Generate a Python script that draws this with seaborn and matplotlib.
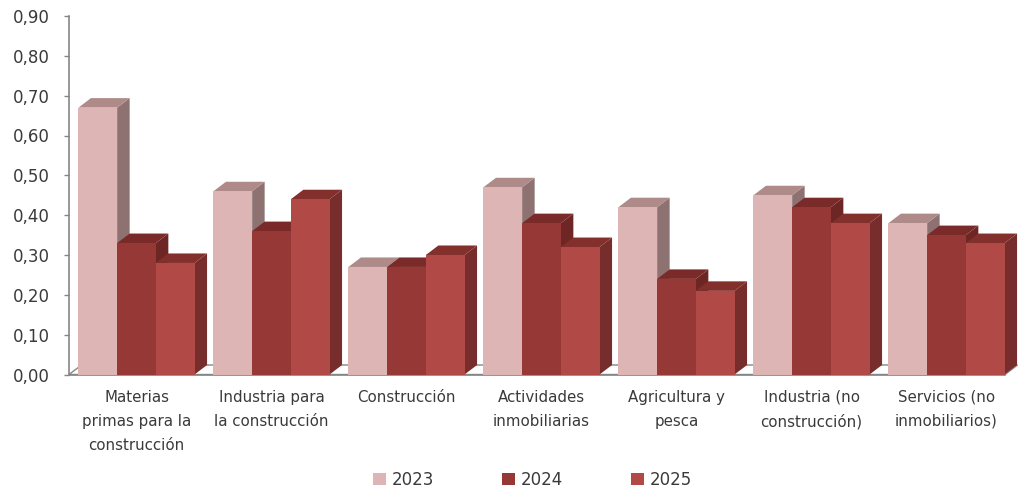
import matplotlib
matplotlib.use("Agg")
import matplotlib.pyplot as plt
from matplotlib.patches import Polygon, Patch
import pandas as pd
import seaborn as sns

categories = [
    "Materias\nprimas para la\nconstrucción",
    "Industria para\nla construcción",
    "Construcción",
    "Actividades\ninmobiliarias",
    "Agricultura y\npesca",
    "Industria (no\nconstrucción)",
    "Servicios (no\ninmobiliarios)",
]
years = ["2023", "2024", "2025"]
values_2023 = [0.67, 0.46, 0.27, 0.47, 0.42, 0.45, 0.38]
values_2024 = [0.33, 0.36, 0.27, 0.38, 0.24, 0.42, 0.35]
values_2025 = [0.28, 0.44, 0.30, 0.32, 0.21, 0.38, 0.33]
y_ticks = [0.0, 0.1, 0.2, 0.3, 0.4, 0.5, 0.6, 0.7, 0.8, 0.9]
y_tick_labels = ["0,00", "0,10", "0,20", "0,30", "0,40", "0,50", "0,60", "0,70", "0,80", "0,90"]

face_colors = ["#DDB5B5", "#953836", "#B14A46"]
side_colors = ["#8E7272", "#6E2624", "#762D2B"]
top_colors = ["#AE8A89", "#7A2B29", "#832F2C"]
axis_color = "#868686"
text_color = "#3A3A3A"

W, H = 1019, 491
sns.set_theme(style="white")
plt.rcParams["font.family"] = ["DejaVu Sans"]

fig = plt.figure(figsize=(W / 100, H / 100), dpi=100, facecolor="white")
ax = fig.add_axes([69 / W, 1 - 374.5 / H, 945 / W, 358.5 / H])

frame = pd.DataFrame({
    "categoria": categories * 3,
    "anio": [y for y in years for _ in categories],
    "valor": values_2023 + values_2024 + values_2025,
})
sns.barplot(data=frame, x="categoria", y="valor", hue="anio", order=categories,
            hue_order=years, palette=face_colors, saturation=1, width=0.86, gap=0,
            ax=ax, legend=False, linewidth=0)

ax.set_xlim(-0.5, 6.5)
ax.set_ylim(0, 0.9)

# Oblique depth of the pseudo-3D columns, expressed in axis units
depth_x = 12.5 / (945 / 7)
depth_y = 9.5 / (358.5 / 0.9)
floor_end = 6.5 - 9 / 135

# Floor of the chart, behind the columns
ax.add_patch(Polygon([(-0.5, 0), (-0.5 + depth_x, depth_y), (floor_end + depth_x, depth_y), (floor_end, 0)],
                     closed=True, facecolor="white", edgecolor=axis_color, linewidth=1.0,
                     zorder=1, clip_on=False))

for group in range(len(categories)):
    for s, container in enumerate(ax.containers):
        bar = container.patches[group]
        x0, w, h = bar.get_x(), bar.get_width(), bar.get_height()
        z = 3 + group * 3 + s * 0.9
        ax.add_patch(Polygon([(x0 + w, 0), (x0 + w + depth_x, depth_y),
                              (x0 + w + depth_x, h + depth_y), (x0 + w, h)],
                             closed=True, facecolor=side_colors[s], linewidth=0, zorder=z,
                             clip_on=False))
        ax.add_patch(Polygon([(x0, h), (x0 + depth_x, h + depth_y),
                              (x0 + w + depth_x, h + depth_y), (x0 + w, h)],
                             closed=True, facecolor=top_colors[s], linewidth=0, zorder=z + 0.1,
                             clip_on=False))
        bar.set_zorder(z + 0.2)

for name in ("top", "right"):
    ax.spines[name].set_visible(False)
for name in ("left", "bottom"):
    ax.spines[name].set_color(axis_color)
    ax.spines[name].set_linewidth(1.2)
    ax.spines[name].set_zorder(2)
ax.spines["bottom"].set_bounds(-0.5, floor_end)

ax.set_xlabel("")
ax.set_ylabel("")
ax.set_yticks(y_ticks, labels=y_tick_labels)
ax.set_xticks(range(len(categories)), labels=categories)
ax.tick_params(axis="y", which="major", left=True, length=3.6, width=1.0, color=axis_color,
               labelsize=12, labelcolor=text_color, pad=10.5)
ax.tick_params(axis="x", bottom=False, labelsize=10.8, labelcolor=text_color, pad=5)
for label in ax.get_xticklabels():
    label.set_linespacing(1.75)
    label.set_verticalalignment("top")

handles = [Patch(facecolor=c, edgecolor="none", label=y) for c, y in zip(face_colors, years)]
fig.legend(handles=handles, loc="center", bbox_to_anchor=(532.5 / W, 1 - 480 / H), ncols=3,
           frameon=False, fontsize=12, labelcolor=text_color, handlelength=0.78,
           handleheight=0.78, handletextpad=0.36, columnspacing=4.06, borderpad=0)

fig.savefig("out.png", dpi=100, facecolor="white")
